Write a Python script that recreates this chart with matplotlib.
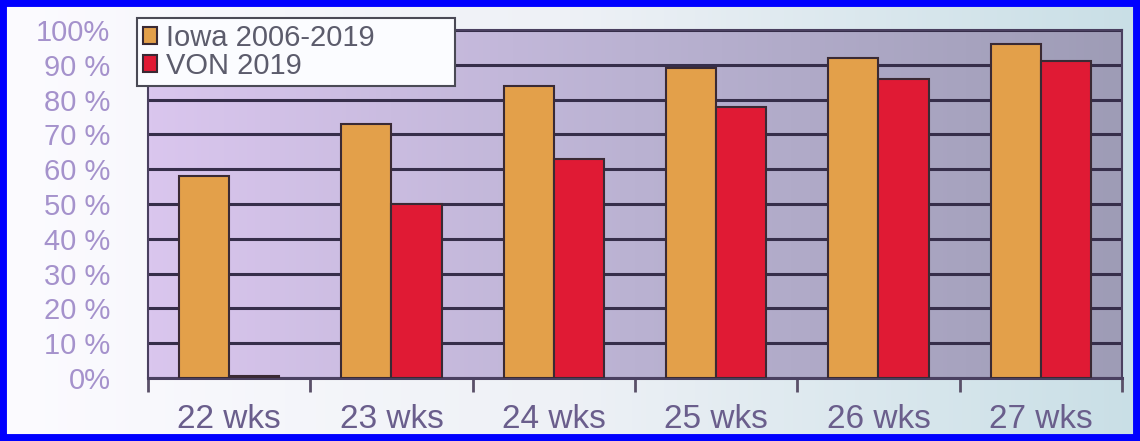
import matplotlib.pyplot as plt
import numpy as np
from matplotlib.colors import LinearSegmentedColormap
from matplotlib.patches import Rectangle

plt.rcParams['font.family'] = ['Liberation Sans', 'DejaVu Sans']

# Sobrevida por idade gestacional
semanas = ['22 wks', '23 wks', '24 wks', '25 wks', '26 wks', '27 wks']
iowa = [58, 73, 84, 89, 92, 96]
von = [0.5, 50, 63, 78, 86, 91]
ticks_y = [0, 10, 20, 30, 40, 50, 60, 70, 80, 90, 100]
rotulos_y = ['0%', '10 %', '20 %', '30 %', '40 %', '50 %', '60 %', '70 %', '80 %', '90 %', '100%']

cor_iowa = '#e3a04a'
cor_von = '#e01a34'

fig = plt.figure(figsize=(11.4, 4.41), dpi=100)

# fundo do slide
fundo = fig.add_axes([0, 0, 1, 1], zorder=-10)
grad = np.linspace(0, 1, 256).reshape(1, -1)
fundo.imshow(grad, aspect='auto', extent=[0, 1, 0, 1],
             cmap=LinearSegmentedColormap.from_list('fundo', ['#fcfbff', '#eef1f6', '#c9dfe6']))
fundo.axis('off')

ax = fig.add_axes([148 / 1140, 1 - 378 / 441, (1122 - 148) / 1140, (378 - 30) / 441])
ax.imshow(grad, aspect='auto', extent=[-0.5, 5.5, 0, 100], zorder=0,
          cmap=LinearSegmentedColormap.from_list('area', ['#dac6ee', '#bab2d2', '#9e9cb6']))

x = np.arange(len(semanas))
w = 0.31
ax.bar(x - w / 2, iowa, w, color=cor_iowa, edgecolor='#3a2a34', linewidth=1.5,
       label='Iowa 2006-2019', zorder=3)
ax.bar(x + w / 2, von, w, color=cor_von, edgecolor='#3a2a34', linewidth=1.5,
       label='VON 2019', zorder=3)

ax.set_xlim(-0.5, 5.5)
ax.set_ylim(0, 100)
ax.set_yticks(ticks_y)
ax.set_yticklabels(rotulos_y, fontsize=21, color='#a592cc')
ax.tick_params(axis='y', length=0, pad=27)
ax.yaxis.grid(True, color='#362e4a', linewidth=2.2)
ax.set_axisbelow(True)

ax.set_xticks(x)
ax.set_xticklabels(semanas, fontsize=24, color='#6a5e8c')
ax.set_xticks(np.arange(-0.5, 6, 1), minor=True)
ax.tick_params(axis='x', which='major', length=0, pad=19)
ax.tick_params(axis='x', which='minor', length=10, width=2, color='#5a5068', direction='out')

for lado in ['left', 'top', 'right']:
    ax.spines[lado].set_color('#4a4060')
    ax.spines[lado].set_linewidth(1.5)
ax.spines['bottom'].set_color('#4a4060')
ax.spines['bottom'].set_linewidth(2.2)

leg = ax.legend(loc='upper left', mode='expand',
                bbox_to_anchor=(137 / 1140, 1 - 88 / 441, 318 / 1140, 70 / 441),
                bbox_transform=fig.transFigure, fontsize=21, frameon=True,
                fancybox=False, framealpha=1, handlelength=0.5, handleheight=0.5,
                handletextpad=0.3, labelspacing=0.0, borderpad=0.2,
                borderaxespad=0)
leg.get_frame().set_edgecolor('#4a4a55')
leg.get_frame().set_linewidth(1.5)
leg.get_frame().set_facecolor('#fbfcff')
for t in leg.get_texts():
    t.set_color('#5c5c6c')
leg.set_zorder(10)

# moldura azul
fig.patches.append(Rectangle((0, 0), 1, 1, transform=fig.transFigure, fill=False,
                             edgecolor='#0000ff', linewidth=10))

fig.savefig('out.png', dpi=100)
